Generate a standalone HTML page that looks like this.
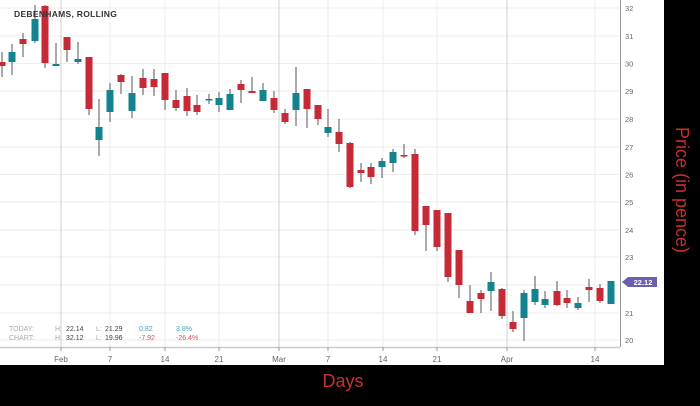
<!DOCTYPE html><html><head><style>body{margin:0;background:#000}</style></head><body>
<svg width="700" height="401" xmlns="http://www.w3.org/2000/svg" font-family="Liberation Sans, sans-serif">
<rect width="700" height="401" fill="#000"/>
<rect x="0" y="0" width="664" height="365" fill="#fff"/>
<g stroke="#eeeeee" stroke-width="1">
<line x1="0" x2="620" y1="8" y2="8"/><line x1="0" x2="620" y1="36" y2="36"/><line x1="0" x2="620" y1="63.5" y2="63.5"/><line x1="0" x2="620" y1="91" y2="91"/><line x1="0" x2="620" y1="119" y2="119"/><line x1="0" x2="620" y1="147" y2="147"/><line x1="0" x2="620" y1="174.5" y2="174.5"/><line x1="0" x2="620" y1="202" y2="202"/><line x1="0" x2="620" y1="230" y2="230"/><line x1="0" x2="620" y1="257" y2="257"/><line x1="0" x2="620" y1="285" y2="285"/><line x1="0" x2="620" y1="313" y2="313"/><line x1="0" x2="620" y1="340" y2="340"/>
<line x1="110" x2="110" y1="0" y2="347"/><line x1="165" x2="165" y1="0" y2="347"/><line x1="219" x2="219" y1="0" y2="347"/><line x1="328" x2="328" y1="0" y2="347"/><line x1="383" x2="383" y1="0" y2="347"/><line x1="437" x2="437" y1="0" y2="347"/><line x1="595" x2="595" y1="0" y2="347"/>
</g>
<g stroke="#d0d0d0"><line x1="61" x2="61" y1="0" y2="347"/><line x1="279" x2="279" y1="0" y2="347"/><line x1="507" x2="507" y1="0" y2="347"/></g>
<line x1="0" x2="620" y1="347.5" y2="347.5" stroke="#ccc" stroke-width="1.5"/>
<line x1="620.5" x2="620.5" y1="0" y2="347" stroke="#999"/>
<g stroke="#999"><line x1="61" x2="61" y1="347" y2="351"/><line x1="110" x2="110" y1="347" y2="351"/><line x1="165" x2="165" y1="347" y2="351"/><line x1="219" x2="219" y1="347" y2="351"/><line x1="279" x2="279" y1="347" y2="351"/><line x1="328" x2="328" y1="347" y2="351"/><line x1="383" x2="383" y1="347" y2="351"/><line x1="437" x2="437" y1="347" y2="351"/><line x1="507" x2="507" y1="347" y2="351"/><line x1="595" x2="595" y1="347" y2="351"/></g>
<g font-size="8" fill="#666" text-anchor="middle"><text x="61" y="362">Feb</text><text x="110" y="362">7</text><text x="165" y="362">14</text><text x="219" y="362">21</text><text x="279" y="362">Mar</text><text x="328" y="362">7</text><text x="383" y="362">14</text><text x="437" y="362">21</text><text x="507" y="362">Apr</text><text x="595" y="362">14</text></g>
<g font-size="7.5" fill="#666"><text x="625" y="11">32</text><text x="625" y="39">31</text><text x="625" y="66.5">30</text><text x="625" y="94">29</text><text x="625" y="122">28</text><text x="625" y="150">27</text><text x="625" y="177.5">26</text><text x="625" y="205">25</text><text x="625" y="233">24</text><text x="625" y="260">23</text><text x="625" y="316">21</text><text x="625" y="343">20</text></g>
<g id="c"></g>
<path d="M622 282 L628 277 L657 277 L657 287 L628 287 Z" fill="#6a5fb0"/>
<text x="643" y="285" font-size="7.5" fill="#fff" text-anchor="middle" font-weight="bold">22.12</text>
<text x="14" y="17" font-size="8.5" font-weight="bold" fill="#333" letter-spacing="0.3">DEBENHAMS, ROLLING</text>
<g font-size="7"><text x="9" y="331" fill="#aaa">TODAY:</text><text x="55" y="331" fill="#aaa">H:</text><text x="66" y="331" fill="#444">22.14</text><text x="96" y="331" fill="#aaa">L:</text><text x="105" y="331" fill="#444">21.29</text><text x="139" y="331" fill="#3aa5b8">0.82</text><text x="176" y="331" fill="#3aa5b8">3.8%</text>
<text x="9" y="340" fill="#aaa">CHART:</text><text x="55" y="340" fill="#aaa">H:</text><text x="66" y="340" fill="#444">32.12</text><text x="96" y="340" fill="#aaa">L:</text><text x="105" y="340" fill="#444">19.96</text><text x="139" y="340" fill="#d9505a">-7.92</text><text x="176" y="340" fill="#d9505a">-26.4%</text></g>
<text x="343" y="387" font-size="18" fill="#c8302c" text-anchor="middle">Days</text>
<text transform="translate(676,190) rotate(90)" font-size="18" fill="#c8302c" text-anchor="middle">Price (in pence)</text>
<g id="cs">
<script>
</script>
</g>
</svg>
<script>
var d=[[2,62,66,52,77,0],[12,52,62,44,75,1],[23,39,44,33,57,0],[35,19,41,5,43,1],[45,6,63,5,68,0],[56,64,66,43,66,1],[67,37,50,37,62,0],[78,59,62,42,64,1],[89,57,109,57,115,0],[99,127,140,99,156,1],[110,90,112,83,122,1],[121,75,82,74,94,0],[132,93,111,76,118,1],[143,78,88,69,95,0],[154,79,87,69,96,0],[165,73,100,73,110,0],[176,100,108,90,111,0],[187,96,111,88,116,0],[197,105,112,95,115,0],[209,99,100,94,104,1],[219,98,105,92,112,1],[230,94,110,89,110,1],[241,84,90,80,103,0],[252,91,93,77,93,0],[263,90,101,83,101,1],[274,98,110,91,113,0],[285,113,122,109,124,0],[296,93,110,67,126,1],[307,89,109,89,128,0],[318,105,119,105,125,0],[328,127,133,109,137,1],[339,132,144,119,152,0],[350,143,187,142,188,0],[361,170,173,163,182,0],[371,167,177,163,184,0],[382,161,167,158,178,1],[393,152,163,149,172,1],[404,155,156,144,158,0],[415,154,231,149,235,0],[426,206,225,206,251,0],[437,210,247,210,251,0],[448,213,277,213,282,0],[459,250,285,250,298,0],[470,301,313,285,313,0],[481,293,299,290,313,0],[491,282,291,272,311,1],[502,289,316,288,319,0],[513,322,329,311,332,0],[524,293,318,290,341,1],[535,289,302,276,305,1],[545,299,305,291,308,1],[557,291,305,281,306,0],[567,298,303,290,308,0],[578,303,308,297,310,1],[589,287,290,279,302,0],[600,288,301,284,303,0],[611,281,304,281,304,1]];
var g=document.getElementById('c'),ns='http://www.w3.org/2000/svg',s='';
d.forEach(function(c){var col=c[5]?'#13838f':'#c62a36';var h=Math.max(c[2]-c[1],1.5);
s+='<line x1="'+c[0]+'" x2="'+c[0]+'" y1="'+c[3]+'" y2="'+c[4]+'" stroke="#555" stroke-width="1"/>';
s+='<rect x="'+(c[0]-3.5)+'" y="'+c[1]+'" width="7" height="'+h+'" fill="'+col+'"/>';});
g.innerHTML=s;
</script>
</body></html>
